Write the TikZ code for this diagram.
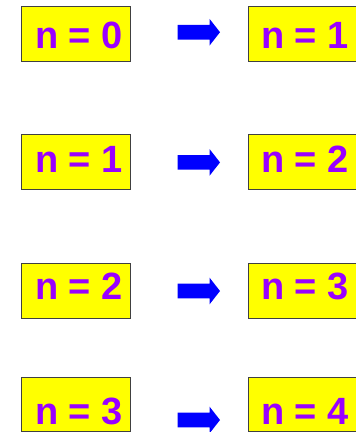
\documentclass[tikz,border=0pt]{standalone}
\usepackage{fontspec}
\setmainfont{Liberation Sans}
\definecolor{boxyellow}{HTML}{FFFF00}
\definecolor{txtpurple}{HTML}{9900FF}
\definecolor{arrblue}{HTML}{0000FF}
\begin{document}
\begin{tikzpicture}[x=1pt,y=-1pt,
  box/.style={draw=black!75, line width=1pt, fill=boxyellow, inner sep=0pt, minimum width=108.7pt},
  lbl/.style={anchor=base west, inner sep=0pt, text=txtpurple, font=\fontsize{38}{40}\selectfont\bfseries},
  fat/.pic={\fill[arrblue] (0,-7.3) -- (31.8,-7.3) -- (31.8,-13.4) -- (42.3,0) -- (31.8,13.4) -- (31.8,7.3) -- (0,7.3) -- cycle;}]
\useasboundingbox (0,0) rectangle (356,432);
\clip (0,0) rectangle (356,432);
\foreach \i/\top/\h/\base/\ay in {0/5.7/55.6/48.3/32.2, 1/134.3/55/172.7/162.4, 2/262.7/55.6/299.3/291, 3/376.7/54.6/424/420} {
  \pgfmathtruncatemacro\j{\i+1}
  \node[box, minimum height=\h pt, anchor=north west] (L\i) at (21.3,\top) {};
  \node[box, minimum height=\h pt, anchor=north west] (R\i) at (248.3,\top) {};
  \node[lbl] (tl\i) at (34.9,\base) {n = \i};
  \node[lbl] (tr\i) at (260.9,\base) {n = \j};
  \pic (A\i) at (177.7,\ay) {fat};
}
\end{tikzpicture}
\end{document}
